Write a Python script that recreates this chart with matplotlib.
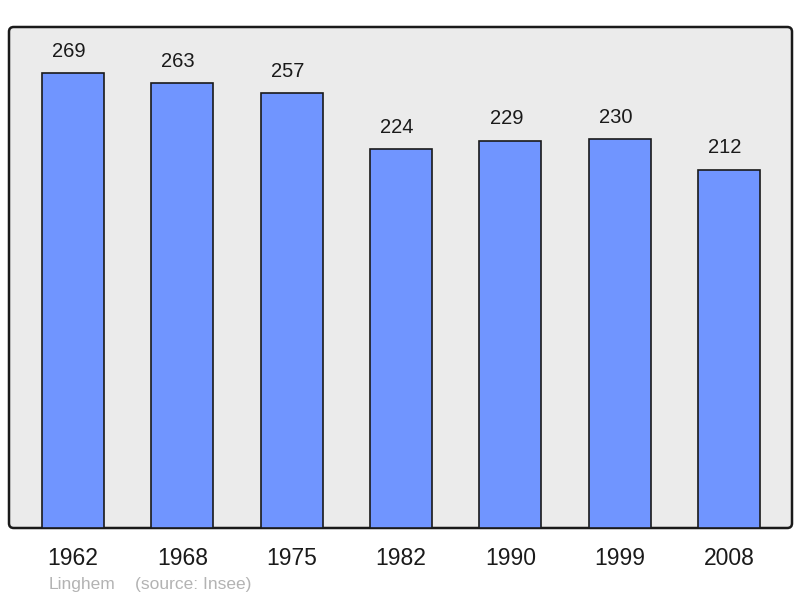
import matplotlib
matplotlib.use("Agg")
import matplotlib.pyplot as plt
from matplotlib.patches import FancyBboxPatch

years = ["1962", "1968", "1975", "1982", "1990", "1999", "2008"]
population = [269, 263, 257, 224, 229, 230, 212]

plt.rcParams['font.family'] = ['Liberation Sans', 'DejaVu Sans']

fig = plt.figure(figsize=(8, 5.98), dpi=100)
ax = fig.add_axes([9/800, 70/598, 783/800, 501/598])
ax.set_xlim(-0.585, 6.576)
ax.set_ylim(0, 296.3)
ax.set_facecolor('none')
for s in ax.spines.values():
    s.set_visible(False)

bg = FancyBboxPatch((0, 0), 1, 1, boxstyle="round,pad=0,rounding_size=0.006",
                    transform=ax.transAxes, facecolor='#ebebeb', edgecolor='#1a1a1a',
                    linewidth=1.8, zorder=0, clip_on=False, mutation_aspect=783/501)
ax.add_patch(bg)

x = list(range(len(years)))
ax.bar(x, population, width=0.567, color='#7095ff', edgecolor='#1a1a1a', linewidth=1.2, zorder=2)
for xi, v in zip(x, population):
    ax.text(xi - 0.037, v + 13, str(v), ha='center', va='center', fontsize=14.5, color='#1a1a1a')

ax.set_xticks(x)
ax.set_xticklabels(years, fontsize=16.5, color='#1a1a1a')
ax.tick_params(axis='x', length=0, pad=14)
ax.set_yticks([])

fig.text(49/800, 1 - 584/598, "Linghem", fontsize=12.5, color='#b3b3b3', va='center', ha='left')
fig.text(135/800, 1 - 584/598, "(source: Insee)", fontsize=12.5, color='#b3b3b3', va='center', ha='left')

fig.savefig("out.png", dpi=100)
